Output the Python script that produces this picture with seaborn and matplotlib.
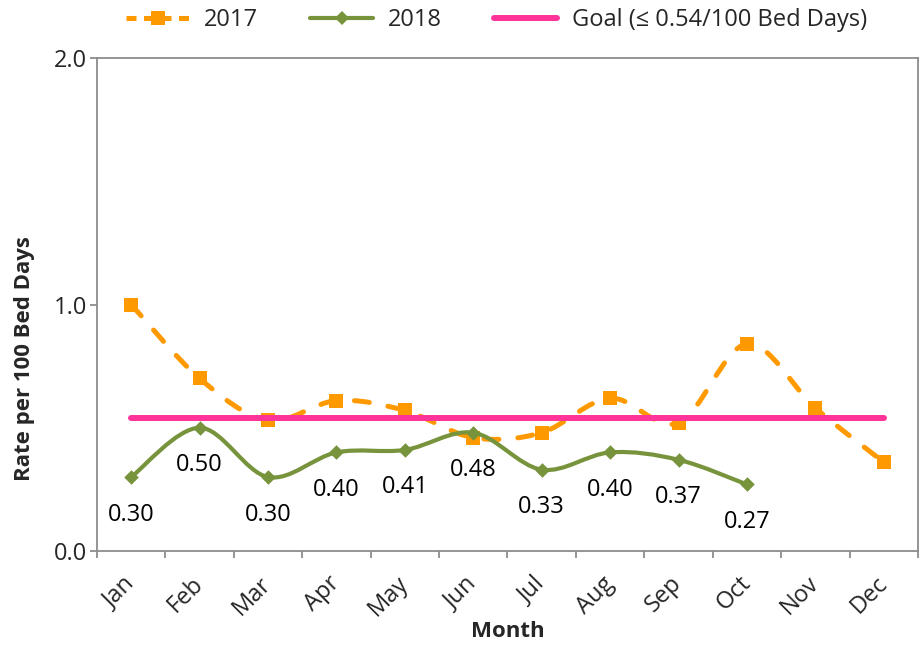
import numpy as np
import pandas as pd
import seaborn as sns
import matplotlib
matplotlib.use("Agg")
import matplotlib.pyplot as plt
from matplotlib.path import Path
from matplotlib.patches import PathPatch
from matplotlib.lines import Line2D

# Data
months = ["Jan", "Feb", "Mar", "Apr", "May", "Jun",
          "Jul", "Aug", "Sep", "Oct", "Nov", "Dec"]
rate_2017 = [1.00, 0.70, 0.53, 0.61, 0.57, 0.46, 0.48, 0.62, 0.52, 0.84, 0.58, 0.36]
rate_2018 = [0.30, 0.50, 0.30, 0.40, 0.41, 0.48, 0.33, 0.40, 0.37, 0.27]
goal = 0.54
goal_label = "Goal (\u2264 0.54/100 Bed Days)"

ORANGE = "#FF9900"
GREEN = "#77933C"
PINK = "#FF3399"
GREY = "#8C8C8C"
FS = 17

df17 = pd.DataFrame({"pos": np.arange(len(rate_2017)), "rate": rate_2017})
df18 = pd.DataFrame({"pos": np.arange(len(rate_2018)), "rate": rate_2018})
df_goal = pd.DataFrame({"pos": np.arange(len(months)), "rate": [goal] * len(months)})


def smooth_path(xs, ys):
    # Excel-style smoothed line: cubic bezier through the points
    pts = np.column_stack([xs, ys]).astype(float)
    n = len(pts)
    verts = [pts[0]]
    codes = [Path.MOVETO]
    for i in range(n - 1):
        p0 = pts[max(i - 1, 0)]
        p1 = pts[i]
        p2 = pts[i + 1]
        p3 = pts[min(i + 2, n - 1)]
        verts += [p1 + (p2 - p0) / 6, p2 - (p3 - p1) / 6, p2]
        codes += [Path.CURVE4] * 3
    return Path(verts, codes)


sns.set_theme(style="white")
plt.rcParams["font.family"] = ["Open Sans", "DejaVu Sans"]

fig = plt.figure(figsize=(9.24, 6.5), dpi=100)
ax = fig.add_axes([97 / 924, 1 - 551 / 650, 821 / 924, 493 / 650])

dash = (0, (3, 3.8))

# 2017
p17 = PathPatch(smooth_path(df17["pos"], df17["rate"]), fill=False,
                edgecolor=ORANGE, lw=3.6, linestyle=dash, capstyle="round", zorder=2)
ax.add_patch(p17)
sns.scatterplot(data=df17, x="pos", y="rate", marker="s", s=100, color=ORANGE,
                linewidth=0, ax=ax, zorder=3)

# 2018
p18 = PathPatch(smooth_path(df18["pos"], df18["rate"]), fill=False,
                edgecolor=GREEN, lw=3.0, capstyle="round", joinstyle="round", zorder=4)
ax.add_patch(p18)
sns.scatterplot(data=df18, x="pos", y="rate", marker="D", s=55, color=GREEN,
                linewidth=0, ax=ax, zorder=5)

for x, y in zip(df18["pos"], df18["rate"]):
    ax.annotate(f"{y:.2f}", (x, y), xytext=(0, -27), textcoords="offset points",
                ha="center", va="center", fontsize=FS, color="black")

# Goal
sns.lineplot(data=df_goal, x="pos", y="rate", color=PINK, lw=4.3,
             solid_capstyle="round", ax=ax, zorder=6)

ax.set_xlim(-0.5, len(months) - 0.5)
ax.set_ylim(0, 2.0)
ax.set_yticks([0, 1, 2])
ax.set_yticklabels(["0.0", "1.0", "2.0"])
ax.set_xticks(np.arange(len(months)))
ax.set_xticklabels(months)
ax.set_xticks(np.arange(-0.5, len(months), 1), minor=True)

ax.tick_params(axis="y", which="major", left=True, length=5, width=1.3,
               color=GREY, labelsize=FS, pad=2, direction="out")
ax.tick_params(axis="x", which="major", bottom=False, length=0, labelsize=FS, pad=21)
ax.tick_params(axis="x", which="minor", bottom=True, length=5, width=1.3,
               color=GREY, direction="out")
for lbl in ax.get_xticklabels():
    lbl.set_rotation(45)
    lbl.set_ha("right")
    lbl.set_va("center")
    lbl.set_rotation_mode("anchor")

for sp in ax.spines.values():
    sp.set_visible(True)
    sp.set_color(GREY)
    sp.set_linewidth(1.3)

ax.set_xlabel("Month", fontsize=FS - 1, fontweight="bold", va="center")
ax.xaxis.set_label_coords(0.5, -0.164)
ax.set_ylabel("Rate per 100 Bed Days", fontsize=FS - 1, fontweight="bold", va="center")
ax.yaxis.set_label_coords(-0.088, 0.39)

handles = [
    Line2D([], [], color=ORANGE, lw=3.6, linestyle=(0, (2, 1.5)), marker="s",
           markersize=10, markeredgewidth=0),
    Line2D([], [], color=GREEN, lw=3.0, marker="D", markersize=7, markeredgewidth=0),
    Line2D([], [], color=PINK, lw=4.3, solid_capstyle="round"),
]
fig.legend(handles, ["2017", "2018", goal_label], loc="center",
           bbox_to_anchor=(0.537, 0.969), ncol=3, frameon=False, fontsize=FS,
           handlelength=2.7, handletextpad=0.6, columnspacing=2.2)

fig.savefig("out.png", dpi=100)
